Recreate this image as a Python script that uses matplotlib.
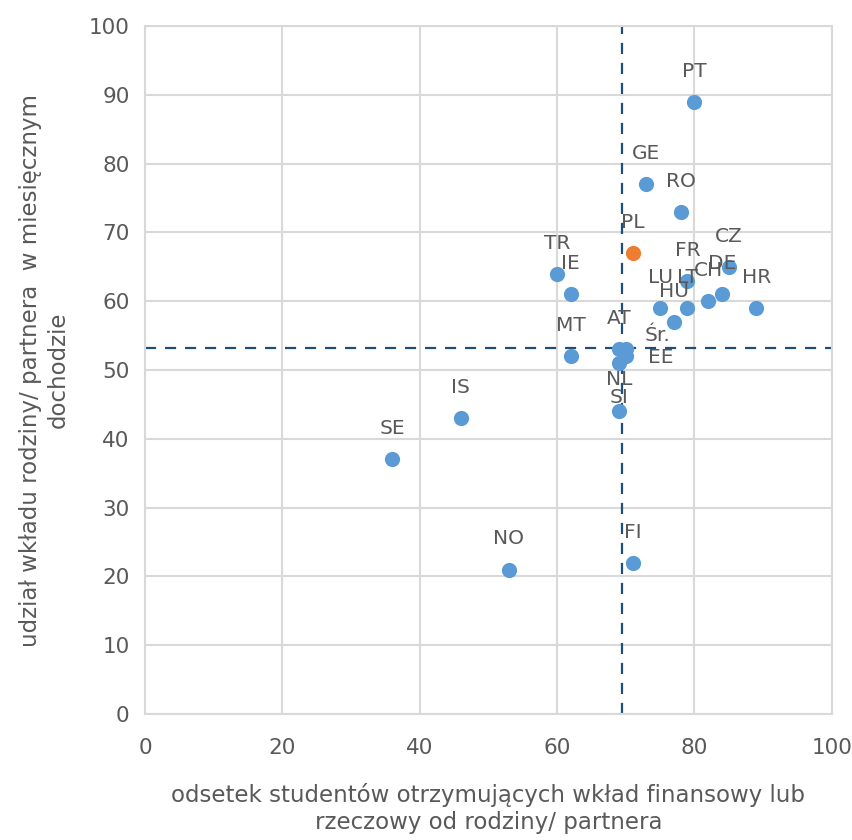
import matplotlib.pyplot as plt

countries = ["PT", "GE", "RO", "TR", "IE", "FR", "CZ", "DE", "CH", "LU", "LT", "HU", "HR",
             "MT", "AT", "Śr.", "EE", "NL", "SI", "IS", "SE", "NO", "FI"]
share_support = [80, 73, 78, 60, 62, 79, 85, 84, 82, 75, 79, 77, 89,
                 62, 69, 70, 70, 69, 69, 46, 36, 53, 71]
share_income = [89, 77, 73, 64, 61, 63, 65, 61, 60, 59, 59, 57, 59,
                52, 53, 53, 52, 51, 44, 43, 37, 21, 22]
pl_x, pl_y = [71], [67]
mean_x, mean_y = 69.5, 53.2

# label offsets in points from the dot to the label centre (default: above)
offsets = {"Śr.": (23, 10), "EE": (25, -1), "NL": (0, -12), "SI": (0, 10)}

grey = "#595959"
plt.rcParams["font.family"] = ["DejaVu Sans"]

fig = plt.figure(figsize=(8.53, 8.40), dpi=100)
ax = fig.add_axes([0.170, 0.150, 0.805, 0.819])

ax.scatter(share_support, share_income, s=120, color="#5B9BD5", zorder=3, linewidths=0)
ax.scatter(pl_x, pl_y, s=120, color="#ED7D31", zorder=3, linewidths=0)

for name, x, y in zip(countries, share_support, share_income):
    dx, dy = offsets.get(name, (0, 22))
    ax.annotate(name, (x, y), xytext=(dx, dy), textcoords="offset points",
                ha="center", va="center", fontsize=14.5, color=grey, zorder=4)
ax.annotate("PL", (pl_x[0], pl_y[0]), xytext=(0, 22), textcoords="offset points",
            ha="center", va="center", fontsize=14.5, color=grey, zorder=4)

ax.axvline(mean_x, color="#1F4E79", lw=1.6, ls=(0, (5, 4)), zorder=2)
ax.axhline(mean_y, color="#1F4E79", lw=1.6, ls=(0, (5, 4)), zorder=2, clip_on=False)

ax.set_xlim(0, 100)
ax.set_ylim(0, 100)
ax.set_xticks(range(0, 101, 20))
ax.set_yticks(range(0, 101, 10))
ax.grid(True, color="#D9D9D9", lw=1.5)
ax.set_axisbelow(True)
for s in ax.spines.values():
    s.set_color("#D9D9D9")
    s.set_linewidth(1.5)
ax.tick_params(length=0, labelsize=15.5, colors=grey, pad=11)
ax.tick_params(axis="x", pad=17)

ax.set_xlabel("odsetek studentów otrzymujących wkład finansowy lub\nrzeczowy od rodziny/ partnera",
              fontsize=16.5, color=grey, labelpad=18, linespacing=1.25)
ax.set_ylabel("udział wkładu rodziny/ partnera  w miesięcznym\ndochodzie",
              fontsize=16.5, color=grey, labelpad=14, linespacing=1.25)

fig.savefig("out.png", dpi=100)
